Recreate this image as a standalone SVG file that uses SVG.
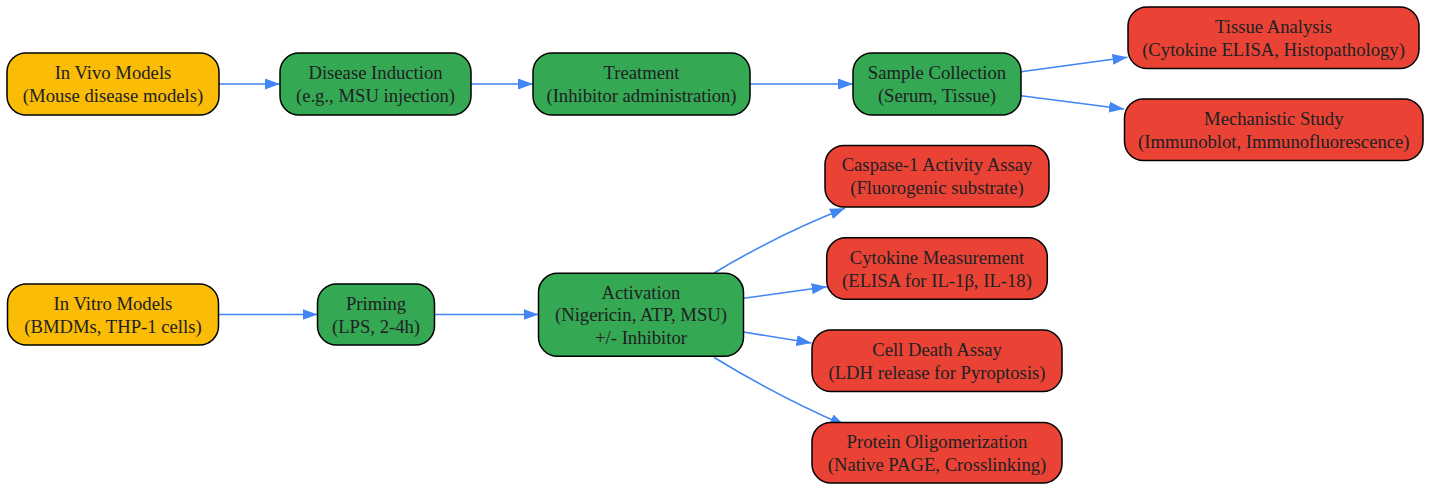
<svg xmlns="http://www.w3.org/2000/svg" width="1431" height="484" viewBox="0 0 1431 484">
<style>
.n rect{stroke:#000;stroke-width:1.5}
.y rect{fill:#FBBC05}
.g rect{fill:#34A853}
.r rect{fill:#EA4335}
text{font-family:"Liberation Serif","Times New Roman",serif;font-size:18.67px;fill:#202124;text-anchor:middle}
.e path{fill:none;stroke:#4285F4;stroke-width:1.6;marker-end:url(#ah)}
</style>
<defs>
<marker id="ah" markerUnits="userSpaceOnUse" markerWidth="16" markerHeight="12" refX="15" refY="5.5" orient="auto" viewBox="0 0 16 12">
<path d="M0,0 L15,5.5 L0,11 z" fill="#4285F4"/>
</marker>
</defs>
<rect width="1431" height="484" fill="#fff"/>
<g id="edges" class="e">
<path d="M219,84 L280,84"/>
<path d="M471,84 L533,84"/>
<path d="M750,84 L853,84"/>
<path d="M1021,71.7 L1127.5,57.3"/>
<path d="M1021,95.7 L1124,109"/>
<path d="M218.5,314.5 L317.5,314.5"/>
<path d="M434.5,314.5 L538.5,314.5"/>
<path d="M714,273 Q777,235 845,208.3"/>
<path d="M743.5,298.3 L826.7,286.7"/>
<path d="M743.5,332 L811.5,343"/>
<path d="M714.2,357.5 Q777,396 845,425.6"/>
</g>
<g id="invivo" class="n y"><rect x="7" y="53" width="212" height="62" rx="19"/><text x="113" y="79.3">In Vivo Models</text><text x="113" y="102">(Mouse disease models)</text></g>
<g id="disease" class="n g"><rect x="280" y="53" width="191" height="62" rx="19"/><text x="375.5" y="79.3">Disease Induction</text><text x="375.5" y="102">(e.g., MSU injection)</text></g>
<g id="treatment" class="n g"><rect x="533" y="53" width="217" height="62" rx="19"/><text x="641.5" y="79.3">Treatment</text><text x="641.5" y="102">(Inhibitor administration)</text></g>
<g id="sample" class="n g"><rect x="853" y="53" width="168" height="62" rx="19"/><text x="937" y="79.3">Sample Collection</text><text x="937" y="102">(Serum, Tissue)</text></g>
<g id="tissue" class="n r"><rect x="1128" y="7" width="291" height="61.5" rx="19"/><text x="1273.5" y="33">Tissue Analysis</text><text x="1273.5" y="55.5">(Cytokine ELISA, Histopathology)</text></g>
<g id="mech" class="n r"><rect x="1124.5" y="99" width="298.5" height="61.5" rx="19"/><text x="1273.8" y="125.3">Mechanistic Study</text><text x="1273.8" y="148">(Immunoblot, Immunofluorescence)</text></g>
<g id="invitro" class="n y"><rect x="7.5" y="284" width="211" height="61" rx="19"/><text x="113" y="310">In Vitro Models</text><text x="113" y="332.5">(BMDMs, THP-1 cells)</text></g>
<g id="priming" class="n g"><rect x="317.5" y="284" width="117" height="61" rx="19"/><text x="376" y="310">Priming</text><text x="376" y="332.5">(LPS, 2-4h)</text></g>
<g id="activation" class="n g"><rect x="538.5" y="273.3" width="205" height="83" rx="19"/><text x="641" y="298.5">Activation</text><text x="641" y="321">(Nigericin, ATP, MSU)</text><text x="641" y="343.5">+/- Inhibitor</text></g>
<g id="caspase" class="n r"><rect x="825" y="145.5" width="224" height="61.5" rx="19"/><text x="937" y="171.3">Caspase-1 Activity Assay</text><text x="937" y="194">(Fluorogenic substrate)</text></g>
<g id="cytokine" class="n r"><rect x="826.7" y="237.8" width="220.6" height="61.5" rx="19"/><text x="937" y="263.8">Cytokine Measurement</text><text x="937" y="286.5">(ELISA for IL-1β, IL-18)</text></g>
<g id="celldeath" class="n r"><rect x="812" y="330" width="250" height="61.5" rx="19"/><text x="937" y="356.3">Cell Death Assay</text><text x="937" y="379">(LDH release for Pyroptosis)</text></g>
<g id="protein" class="n r"><rect x="812" y="422.5" width="250" height="60.5" rx="19"/><text x="937" y="448.3">Protein Oligomerization</text><text x="937" y="471">(Native PAGE, Crosslinking)</text></g>
</svg>
